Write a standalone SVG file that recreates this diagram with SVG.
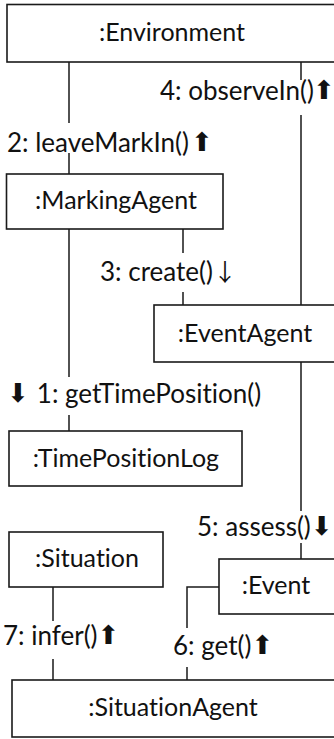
<svg xmlns="http://www.w3.org/2000/svg" width="334" height="739" viewBox="0 0 334 739">
  <style>
    .box { fill: #ffffff; stroke: #1a1a1a; stroke-width: 1.6; }
    .link { fill: none; stroke: #1a1a1a; stroke-width: 1.5; }
    .name { font-family: Lato, "Open Sans", sans-serif; font-size: 25px; fill: #111; text-anchor: middle; font-variant-ligatures: none; }
    .msg { font-family: Lato, "Open Sans", sans-serif; font-size: 26px; fill: #111; font-variant-ligatures: none; }
    .dir { font-family: "DejaVu Sans", sans-serif; font-size: 26px; }
    .thin { font-family: "Noto Sans CJK SC", "DejaVu Sans", sans-serif; font-size: 24px; }
  </style>
  <rect width="334" height="739" fill="#ffffff"/>

  <!-- connectors -->
  <g id="connectors">
    <path class="link" d="M69 62V123M69 153V174"/>
    <path class="link" d="M301 62V80M301 115V305"/>
    <path class="link" d="M183 229V253M183 292V305"/>
    <path class="link" d="M69 229V377M69 415V431"/>
    <path class="link" d="M301 362V511M301 543V559"/>
    <path class="link" d="M219 587H187V628M187 667V680"/>
    <path class="link" d="M53 587V621M53 659V680"/>
  </g>

  <!-- message labels with direction arrows -->
  <g id="labels">
    <text class="msg" x="7" y="152">2: leaveMarkIn()<tspan class="dir" dx="2" dy="-1">⬆</tspan></text>
    <text class="msg" x="160" y="100">4: observeIn()<tspan class="dir" dx="-1" dy="-1">⬆</tspan></text>
    <text class="msg" x="100" y="281">3: create()<tspan class="thin" dx="0" dy="0">↓</tspan></text>
    <text class="msg" x="7" y="403"><tspan class="dir" dy="-1">⬇</tspan><tspan dx="8" dy="1">1: getTimePosition()</tspan></text>
    <text class="msg" x="197" y="536">5: assess()<tspan class="dir" dx="0" dy="-1">⬇</tspan></text>
    <text class="msg" x="3" y="645">7: infer()<tspan class="dir" dx="0" dy="-1">⬆</tspan></text>
    <text class="msg" x="173" y="655">6: get()<tspan class="dir" dx="0" dy="-1">⬆</tspan></text>
  </g>

  <!-- objects -->
  <g id="environment">
    <rect class="box" x="7" y="4.5" width="340" height="57.5"/>
    <text class="name" x="172" y="41">:Environment</text>
  </g>
  <g id="markingAgent">
    <rect class="box" x="6.5" y="174" width="216.5" height="55"/>
    <text class="name" x="116" y="209">:MarkingAgent</text>
  </g>
  <g id="eventAgent">
    <rect class="box" x="154" y="305" width="193" height="57"/>
    <text class="name" x="245" y="342">:EventAgent</text>
  </g>
  <g id="timePositionLog">
    <rect class="box" x="9" y="431" width="233" height="55"/>
    <text class="name" x="126" y="467">:TimePositionLog</text>
  </g>
  <g id="situation">
    <rect class="box" x="9" y="532" width="154" height="55"/>
    <text class="name" x="87" y="567">:Situation</text>
  </g>
  <g id="event">
    <rect class="box" x="219" y="559" width="128" height="55"/>
    <text class="name" x="276" y="594">:Event</text>
  </g>
  <g id="situationAgent">
    <rect class="box" x="12" y="680" width="335" height="57"/>
    <text class="name" x="173" y="716">:SituationAgent</text>
  </g>
</svg>
